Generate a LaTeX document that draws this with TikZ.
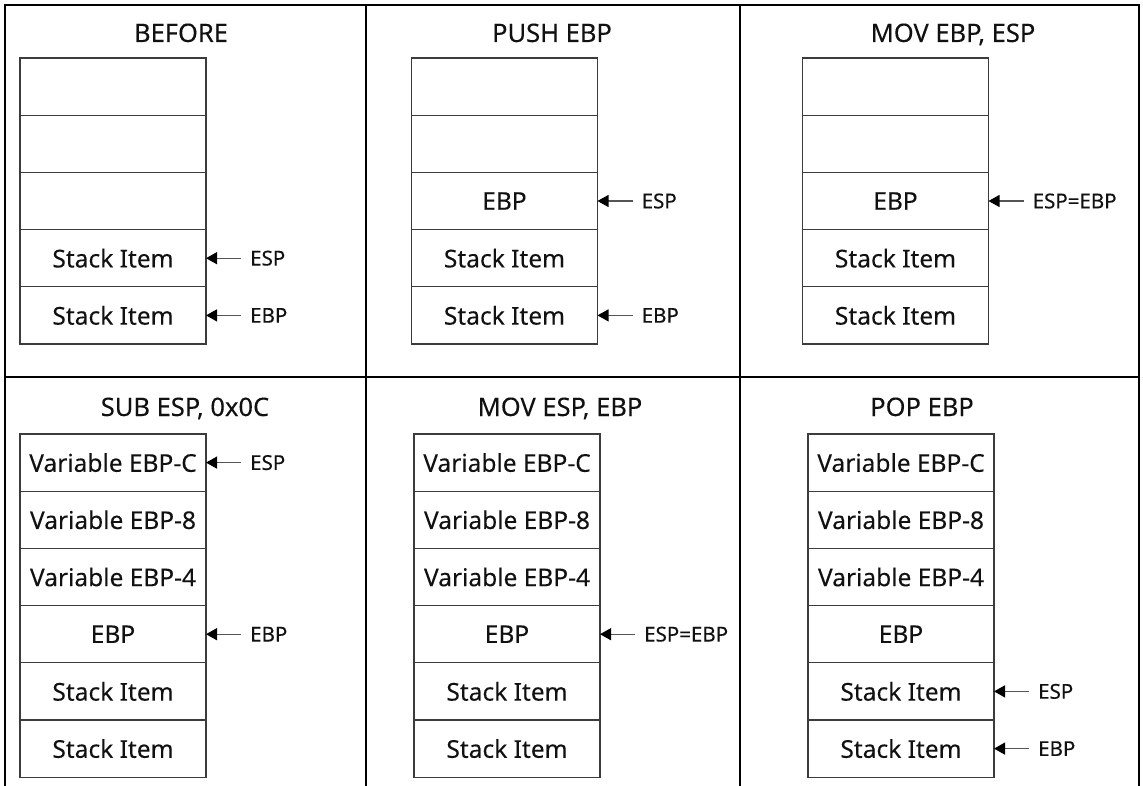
\documentclass[tikz,border=0pt]{standalone}
\usepackage{fontspec}
\setmainfont{Noto Sans}[FakeBold=0.15]
\usetikzlibrary{arrows.meta,calc}
\definecolor{cellline}{HTML}{3C3C3C}
\definecolor{ptrline}{HTML}{555555}
\definecolor{ink}{HTML}{111111}
\newcommand\pointto[2]{%
  \node[ptrlabel] (pt-#1) at ($(#1.east)+(44,0)$) {#2};
  \draw[ptr] (pt-#1.west) -- (#1.east);}
\begin{document}
\begin{tikzpicture}[x=1pt,y=-1pt,
  cell/.style={draw=cellline, line width=1.1pt, minimum width=186pt,
    minimum height=57.2pt, inner sep=0pt, outer sep=0pt, anchor=north west,
    text=ink, font=\fontsize{24.5}{28}\selectfont},
  title/.style={anchor=base, inner sep=0pt, text=ink,
    font=\fontsize{25.5}{29}\selectfont},
  ptrlabel/.style={anchor=west, inner sep=0pt, text=ink,
    font=\fontsize{20.5}{24}\selectfont},
  ptr/.style={draw=ptrline, line width=1.1pt, shorten <=9pt,
    -{Triangle[length=11pt,width=12pt,color=black]}},
  frame/.style={draw=black, line width=2.6pt},
  divider/.style={draw=black, line width=1.5pt}]
\useasboundingbox (0,0) rectangle (1143,786);

% panel grid
\draw[divider] (5,377) -- (1139,377);
\draw[divider] (366,5) -- (366,786);
\draw[divider] (740,5) -- (740,786);
\draw[frame] (5,786) -- (5,5) -- (1139,5) -- (1139,786);

% titles
\node[title] (t1) at (181,42) {BEFORE};
\node[title] (t2) at (552,42) {PUSH EBP};
\node[title] (t3) at (953,42) {MOV EBP, ESP};
\node[title] (t4) at (185,416) {SUB ESP, 0x0C};
\node[title] (t5) at (560,416) {MOV ESP, EBP};
\node[title] (t6) at (922,416) {POP EBP};

% stacks, top row
\foreach \t [count=\i from 0] in {{},{},{},Stack Item,Stack Item}
  \node[cell] (a\i) at (20,58+\i*57.2) {\t};
\foreach \t [count=\i from 0] in {{},{},EBP,Stack Item,Stack Item}
  \node[cell] (b\i) at (411.5,58+\i*57.2) {\t};
\foreach \t [count=\i from 0] in {{},{},EBP,Stack Item,Stack Item}
  \node[cell] (c\i) at (802.5,58+\i*57.2) {\t};

% stacks, bottom row
\foreach \t [count=\i from 0] in {Variable EBP-C,Variable EBP-8,Variable EBP-4,EBP,Stack Item,Stack Item}
  \node[cell] (d\i) at (20,434+\i*57.2) {\t};
\foreach \t [count=\i from 0] in {Variable EBP-C,Variable EBP-8,Variable EBP-4,EBP,Stack Item,Stack Item}
  \node[cell] (e\i) at (414,434+\i*57.2) {\t};
\foreach \t [count=\i from 0] in {Variable EBP-C,Variable EBP-8,Variable EBP-4,EBP,Stack Item,Stack Item}
  \node[cell] (f\i) at (808,434+\i*57.2) {\t};

% register pointers
\pointto{a3}{ESP}
\pointto{a4}{EBP}
\pointto{b2}{ESP}
\pointto{b4}{EBP}
\pointto{c2}{ESP=EBP}
\pointto{d0}{ESP}
\pointto{d3}{EBP}
\pointto{e3}{ESP=EBP}
\pointto{f4}{ESP}
\pointto{f5}{EBP}
\end{tikzpicture}
\end{document}
